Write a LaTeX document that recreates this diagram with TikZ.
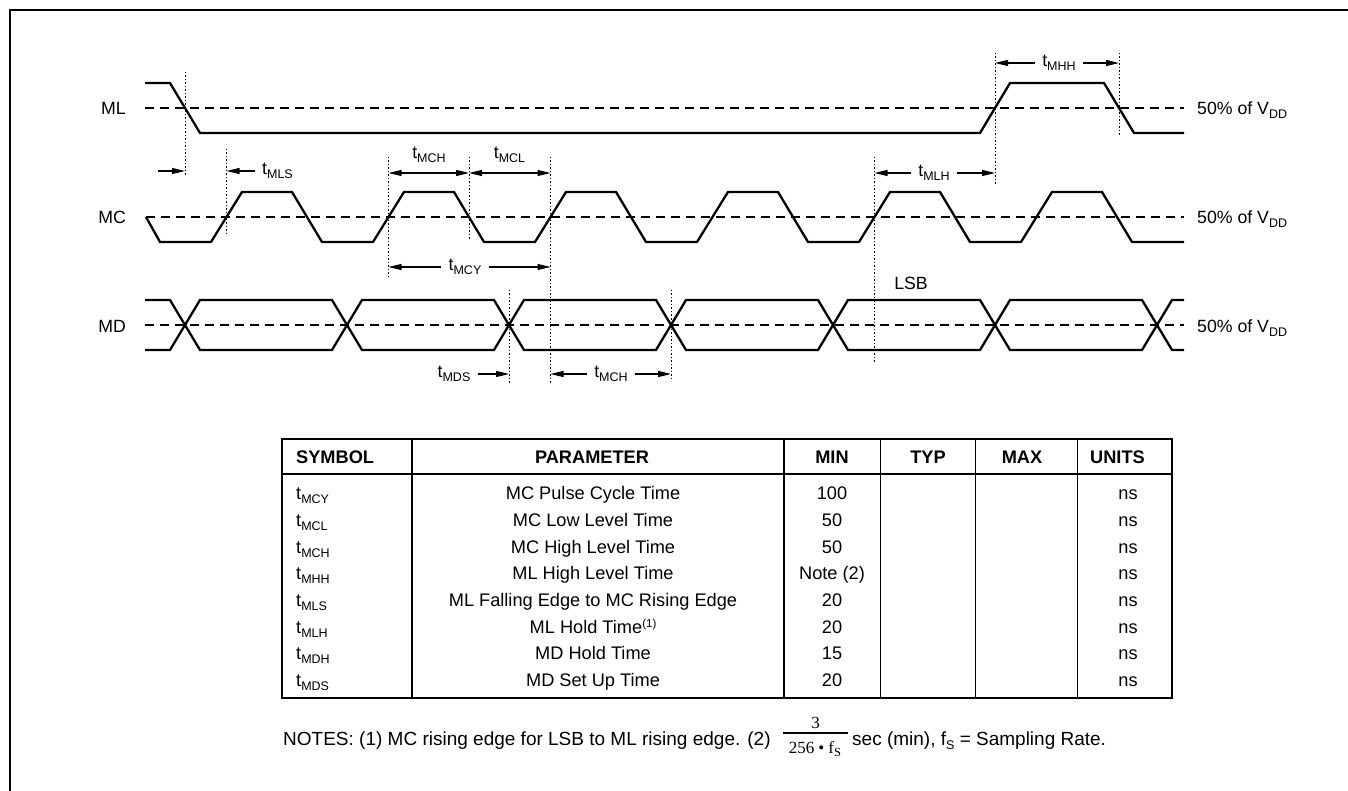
\documentclass[tikz,border=0pt]{standalone}
\usepackage{fontspec}
\setmainfont{Liberation Sans}
\newfontfamily\timesfont{Liberation Serif}
\usetikzlibrary{arrows.meta}
\newcommand{\wfont}{\fontsize{17.7}{20}\selectfont}
\newcommand{\tabfont}{\fontsize{18.2}{21}\selectfont}
\newcommand{\notefont}{\fontsize{19}{22}\selectfont}
\newcommand{\lowsub}[1]{\raisebox{-4pt}{\fontsize{12.5}{13}\selectfont #1}}
\newcommand{\hisup}[1]{\raisebox{6pt}{\fontsize{11.5}{12}\selectfont #1}}
\tikzset{
  waveline/.style={line width=2.3pt, line join=miter},
  midline/.style={line width=1.2pt, dash pattern=on 9pt off 6pt},
  guideline/.style={line width=1pt, dash pattern=on 1.5pt off 2pt},
  arr/.style={line width=1.2pt, -{Triangle[length=13pt,width=6pt]}},
  dblarr/.style={line width=1.2pt, {Triangle[length=13pt,width=6pt]}-{Triangle[length=13pt,width=6pt]}},
  sig/.style={font=\wfont, inner sep=0pt},
  tlbl/.style={font=\wfont, inner sep=7pt},
  thk/.style={line width=2.3pt},
  thn/.style={line width=1pt},
  tab/.style={font=\tabfont, inner sep=0pt},
  tabh/.style={font=\tabfont\bfseries, inner sep=0pt},
  note/.style={font=\notefont, inner sep=0pt},
}
\begin{document}
\begin{tikzpicture}[x=1pt,y=-1pt]
\useasboundingbox (0,0) rectangle (1348,791);
\fill[white] (0,0) rectangle (1348,791);
% frame
\draw[line width=2.5pt] (10,791) -- (10,10) -- (1348,10);

% 50% reference lines
\draw[midline] (145,108) -- (1184,108);
\draw[midline] (146,217) -- (1184,217);
\draw[midline] (145,325) -- (1184,325);

% ML
\draw[waveline] (145,83) -- (170,83) -- (200,133) -- (980,133) -- (1010,83) -- (1104,83) -- (1134,133) -- (1184,133);
% MC
\draw[waveline] (146,217) -- (160,242)
  \foreach \k in {0,...,5} { -- ({211+162*\k},242) -- ({242+162*\k},192) -- ({292+162*\k},192) -- ({322+162*\k},242) }
  -- (1184,242);
% MD
\draw[waveline] (145,300) -- (170,300) -- (200,350) -- (332,350) -- (362,300) -- (494,300) -- (524,350) -- (656,350) -- (686,300) -- (818,300) -- (848,350) -- (980,350) -- (1010,300) -- (1142,300) -- (1172,350) -- (1184,350);
\draw[waveline] (145,350) -- (170,350) -- (200,300) -- (332,300) -- (362,350) -- (494,350) -- (524,300) -- (656,300) -- (686,350) -- (818,350) -- (848,300) -- (980,300) -- (1010,350) -- (1142,350) -- (1172,300) -- (1184,300);

% dotted guides
\foreach \x/\a/\b in {185/72/175, 226.5/149/236, 388.5/157/277, 469/157/239, 550.5/157/383, 509/290/383, 671/290/380, 874.5/157/362, 995/53/185, 1119/53/137}
  \draw[guideline] (\x,\a) -- (\x,\b);

% signal labels
\node[sig, anchor=base east] (lML) at (126,115) {ML};
\node[sig, anchor=base east] (lMC) at (126,224) {MC};
\node[sig, anchor=base east] (lMD) at (126,332) {MD};
\node[sig, anchor=base west] (vML) at (1197,115) {50\% of V\lowsub{DD}};
\node[sig, anchor=base west] (vMC) at (1197,224) {50\% of V\lowsub{DD}};
\node[sig, anchor=base west] (vMD) at (1197,332) {50\% of V\lowsub{DD}};
\node[sig, anchor=base] (lsb) at (911,290) {LSB};

% tMLS
\coordinate (mlsTail) at (158,171);
\coordinate (mlsA) at (185,171);
\coordinate (mlsB) at (226.5,171);
\draw[arr] (mlsTail) -- (mlsA);
\node[tlbl, anchor=west] (lmls) at (255,171) {t\lowsub{MLS}};
\draw[arr] (lmls) -- (mlsB);

% tMCH / tMCL upper
\coordinate (mchA) at (388.5,173);
\coordinate (mchB) at (469,173);
\coordinate (mclB) at (550.5,173);
\draw[dblarr] (mchA) -- (mchB);
\draw[dblarr] (mchB) -- (mclB);
\node[tlbl] (lmch) at (429,155) {t\lowsub{MCH}};
\node[tlbl] (lmcl) at (509.5,155) {t\lowsub{MCL}};

% tMCY
\coordinate (mcyA) at (388.5,267);
\coordinate (mcyB) at (550.5,267);
\node[tlbl] (lmcy) at (465,267) {t\lowsub{MCY}};
\draw[arr] (lmcy) -- (mcyA);
\draw[arr] (lmcy) -- (mcyB);

% tMDS
\coordinate (mdsB) at (509,374);
\node[tlbl] (lmds) at (454,374) {t\lowsub{MDS}};
\draw[arr] (lmds) -- (mdsB);

% tMCH lower
\coordinate (mch2A) at (550.5,374);
\coordinate (mch2B) at (671,374);
\node[tlbl] (lmch2) at (611,374) {t\lowsub{MCH}};
\draw[arr] (lmch2) -- (mch2A);
\draw[arr] (lmch2) -- (mch2B);

% tMLH
\coordinate (mlhA) at (874.5,173);
\coordinate (mlhB) at (995,173);
\node[tlbl] (lmlh) at (934,173) {t\lowsub{MLH}};
\draw[arr] (lmlh) -- (mlhA);
\draw[arr] (lmlh) -- (mlhB);

% tMHH
\coordinate (mhhA) at (995,63);
\coordinate (mhhB) at (1119,63);
\node[tlbl] (lmhh) at (1059,63) {t\lowsub{MHH}};
\draw[arr] (lmhh) -- (mhhA);
\draw[arr] (lmhh) -- (mhhB);

% table
\draw[thk] (282,439) rectangle (1172,698);
\draw[thk] (282,474) -- (1172,474);
\draw[thk] (412,439) -- (412,698);
\draw[thk] (784,439) -- (784,698);
\draw[thn] (880,439) -- (880,698);
\draw[thn] (975,439) -- (975,698);
\draw[thn] (1077,439) -- (1077,698);

\node[tabh, anchor=base west] (hsym) at (296,463.5) {SYMBOL};
\node[tabh, anchor=base] (hpar) at (592,463.5) {PARAMETER};
\node[tabh, anchor=base] (hmin) at (832,463.5) {MIN};
\node[tabh, anchor=base] (htyp) at (928,463.5) {TYP};
\node[tabh, anchor=base] (hmax) at (1022,463.5) {MAX};
\node[tabh, anchor=base west] (hunit) at (1090,463.5) {UNITS};

\foreach \s/\p/\m [count=\i from 0] in {MCY/{MC Pulse Cycle Time}/100, MCL/{MC Low Level Time}/50, MCH/{MC High Level Time}/50, MHH/{ML High Level Time}/{Note (2)}, MLS/{ML Falling Edge to MC Rising Edge}/20, MLH/{ML Hold Time\hisup{(1)}}/20, MDH/{MD Hold Time}/15, MDS/{MD Set Up Time}/20} {
  \pgfmathsetmacro\yy{499.6+26.7*\i}
  \node[tab, anchor=base west] (s\i) at (296,\yy) {t\lowsub{\s}};
  \node[tab, anchor=base] (p\i) at (593,\yy) {\p};
  \node[tab, anchor=base] (m\i) at (832,\yy) {\m};
  \node[tab, anchor=base] (u\i) at (1128,\yy) {ns};
}

% notes
\node[note, anchor=base west] (n1) at (283,745) {NOTES: (1) MC rising edge for LSB to ML rising edge. (2)};
\node[inner sep=0pt, font={\timesfont\fontsize{17}{18}\selectfont}, anchor=base] (fnum) at (815.5,728) {3};
\coordinate (fbarL) at (783,733);
\coordinate (fbarR) at (848,733);
\draw[line width=1.5pt] (fbarL) -- (fbarR);
\node[inner sep=0pt, font={\timesfont\fontsize{17}{18}\selectfont}, anchor=base] (fden) at (815,753) {256\hspace{4pt}•\hspace{4pt}f\raisebox{-3.5pt}{\fontsize{12.5}{13}\selectfont S}};
\node[note, anchor=base west] (n2) at (852,745) {sec (min), f\lowsub{S} = Sampling Rate.};
\end{tikzpicture}
\end{document}
